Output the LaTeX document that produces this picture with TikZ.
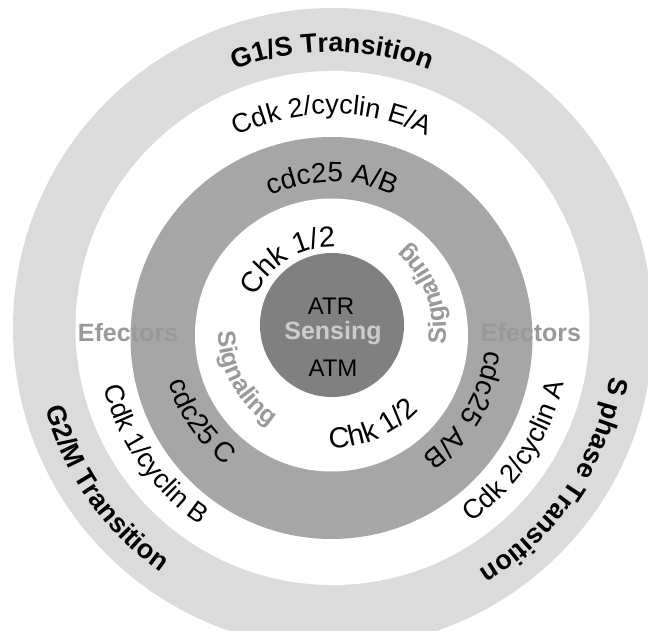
\documentclass[tikz,border=0pt]{standalone}
\usepackage{fontspec}
\setmainfont{Liberation Sans}
\usetikzlibrary{decorations.text}

\newcommand\phasefont{\fontsize{13.5}{16}\selectfont\bfseries}
\newcommand\cdkfont{\fontsize{13.5}{16}\selectfont}
\newcommand\cdcfont{\fontsize{14}{17}\selectfont}
\newcommand\chkfont{\fontsize{14.5}{17}\selectfont}
\newcommand\stagefont{\fontsize{12.5}{15}\selectfont\bfseries}
\newcommand\atfont{\fontsize{12}{14}\selectfont}

\begin{document}
\begin{tikzpicture}[x=0.5pt, y=0.5pt,
  band/.style={fill=black!14},
  ring/.style={fill=black!35},
  core/.style={fill=black!50},
  curved/.style={decorate, decoration={text along path, text align=center, text={#1}}},
  faded/.style={curved={#1}, decoration={text color=black!40}},
  stage/.style={font=\stagefont, text=black!40, inner sep=0pt},
  kinase/.style={font=\atfont, inner sep=0pt},
]
\clip (-332,-301) rectangle (316,330);
% rings, outside in
\fill[band] (1,2) circle[radius=320];
\fill[white] (0.5,2) circle[radius=257];
\fill[ring] (-0.5,-8) circle[radius=201];
\fill[white] (-0.5,-5) circle[radius=136.5];
\fill[core] (0,5) circle[radius=72];

% transitions (outer band)
\path[curved={|\phasefont|G1/S Transition}] (150:278) arc[start angle=150, end angle=30, radius=278];
\path[curved={|\phasefont|S phase Transition}] (26:282) arc[start angle=26, end angle=-94, radius=282];
\path[curved={|\phasefont|G2/M Transition}] (155:297) arc[start angle=155, end angle=275, radius=297];

% cdk / cyclin complexes
\path[curved={|\cdkfont|Cdk 2/cyclin E/A}] (150:216) arc[start angle=150, end angle=30, radius=216];
\path[curved={|\cdkfont|Cdk 2/cyclin A}] (-93.5:238) arc[start angle=-93.5, end angle=26.5, radius=238];
\path[curved={|\cdkfont|Cdk 1/cyclin B}] (155:235) arc[start angle=155, end angle=275, radius=235];

% phosphatases (grey ring)
\path[curved={|\cdcfont|cdc25 A/B}] (150:148) arc[start angle=150, end angle=30, radius=148];
\path[curved={|\cdcfont|cdc25 A/B}] (29:155) arc[start angle=29, end angle=-91, radius=155];
\path[curved={|\cdcfont|cdc25 C}] (155:172) arc[start angle=155, end angle=275, radius=172];

% checkpoint kinases
\path[curved={|\chkfont|Chk 1/2}] (182:83) arc[start angle=182, end angle=62, radius=83];
\path[curved={|\chkfont|Chk 1/2}] (233:118) arc[start angle=233, end angle=353, radius=118];
\path[faded={|\stagefont|Signaling}] (149:114) arc[start angle=149, end angle=269, radius=114];
\path[faded={|\stagefont|Signaling}] (-39:114) arc[start angle=-39, end angle=81, radius=114];

% stage names and sensors
\node[stage] (efl) at (-204,-3) {Efectors};
\node[stage] (efr) at (199,-3) {Efectors};
\node[stage, text=black!20] (sensing) at (1,-3) {Sensing};
\node[kinase] (atr) at (-1,24) {ATR};
\node[kinase] (atm) at (1,-38) {ATM};
\end{tikzpicture}
\end{document}
